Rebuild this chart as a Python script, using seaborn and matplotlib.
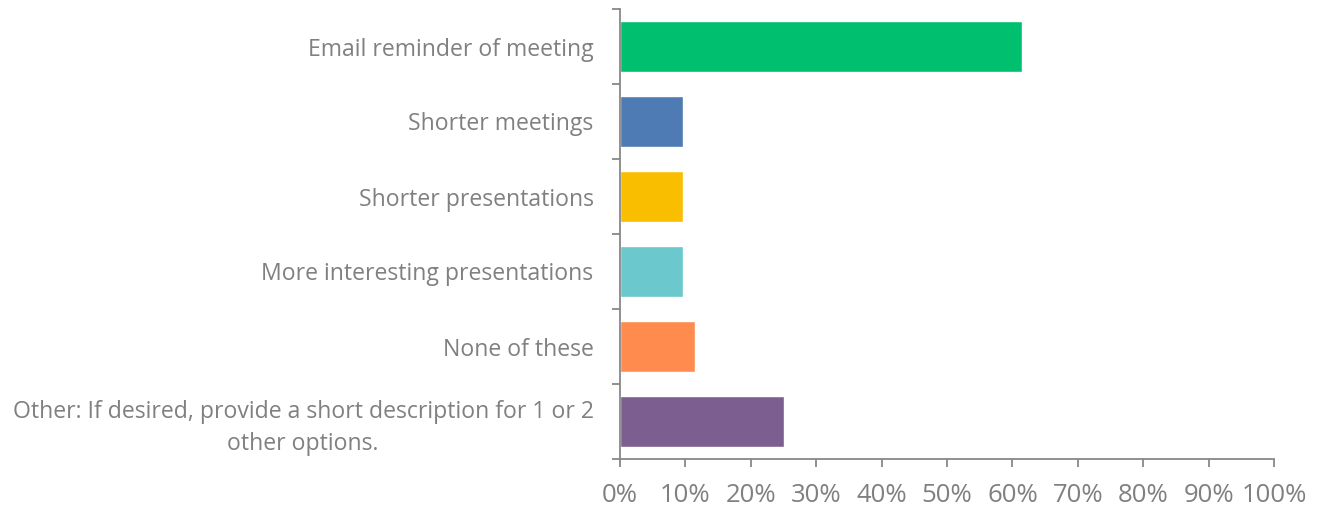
import numpy as np
import pandas as pd
import matplotlib
matplotlib.use("Agg")
import matplotlib.pyplot as plt
import seaborn as sns
from matplotlib.ticker import PercentFormatter, FixedLocator

options = ["Email reminder of meeting", "Shorter meetings", "Shorter presentations",
           "More interesting presentations", "None of these",
           "Other: If desired, provide a short description for 1 or 2\nother options."]
shares = [61.5, 9.6, 9.6, 9.6, 11.5, 25.0]
colors = ["#00bf6f", "#4e7bb4", "#f9be00", "#6bc8cd", "#ff8b4f", "#7d5e90"]

df = pd.DataFrame({"option": options, "share": shares})

sns.set_style("white")
plt.rcParams['font.family'] = ['Open Sans', 'DejaVu Sans']
grey = "#808080"
axis_grey = "#888888"

fig = plt.figure(figsize=(13.18, 5.08), dpi=100)
ax = fig.add_axes([620/1318, 1 - 459/508, 654/1318, 450/508])

sns.barplot(data=df, y="option", x="share", hue="option", palette=colors,
            legend=False, width=0.667, ax=ax, saturation=1)

ax.set_xlim(0, 100)
ax.set_ylim(5.5, -0.5)
ax.set_xticks(np.arange(0, 101, 10))
ax.xaxis.set_major_formatter(PercentFormatter(decimals=0))
ax.set_xlabel("")
ax.set_ylabel("")

for s in ["top", "right"]:
    ax.spines[s].set_visible(False)
for s in ["left", "bottom"]:
    ax.spines[s].set_color(axis_grey)
    ax.spines[s].set_linewidth(1.3)

ax.tick_params(axis="y", which="major", left=False, length=0, pad=19,
               labelsize=16.6, labelcolor=grey)
ax.yaxis.set_minor_locator(FixedLocator(np.arange(-0.5, 6, 1)))
ax.tick_params(axis="y", which="minor", left=True, length=6, width=1.3,
               color=axis_grey, direction="out")
ax.tick_params(axis="x", which="major", bottom=True, length=6, width=1.3,
               color=axis_grey, direction="out", labelsize=18.5, labelcolor=grey, pad=11)
for lbl in ax.get_yticklabels():
    lbl.set_multialignment("center")
    lbl.set_linespacing(1.4)

fig.savefig("out.png", dpi=100)
